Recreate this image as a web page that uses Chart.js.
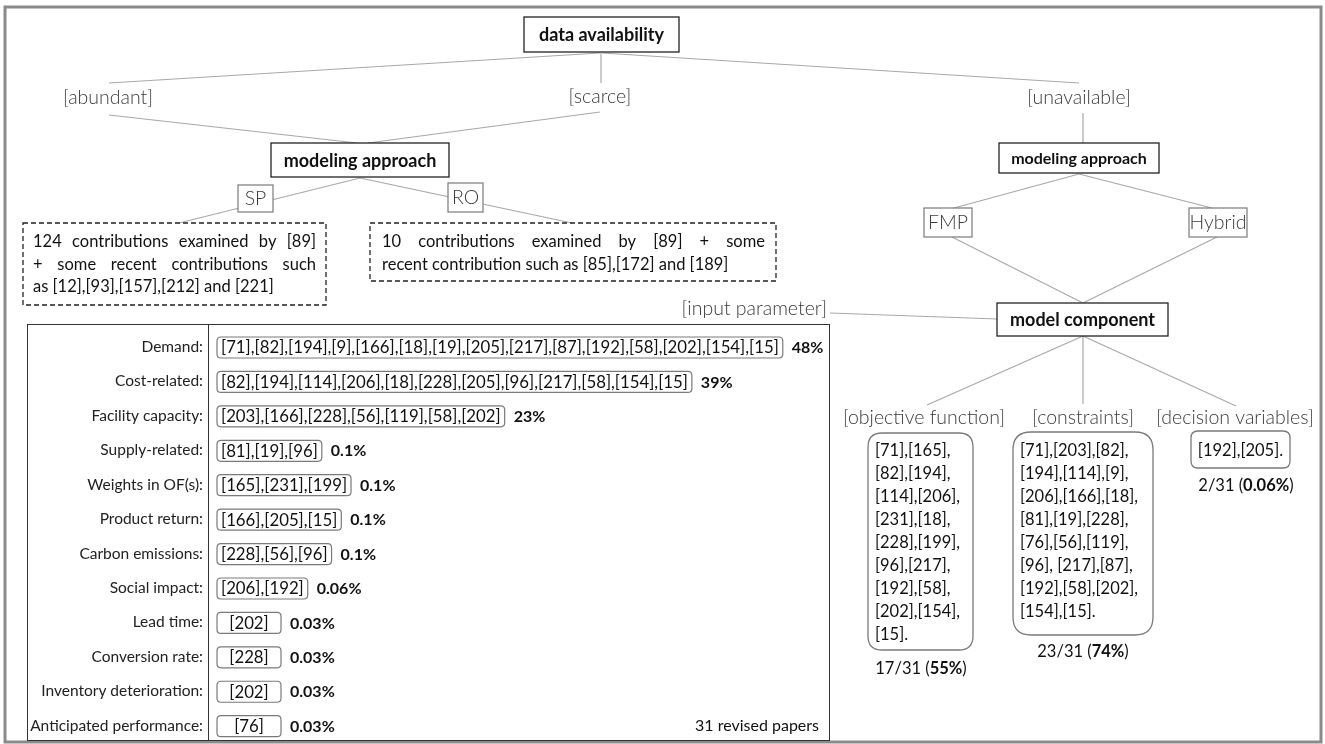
<!DOCTYPE html>
<html>
<head>
<meta charset="utf-8">
<title>data availability - modeling approach - model component</title>
<script src="https://cdn.jsdelivr.net/npm/chart.js@4.4.1/dist/chart.umd.min.js"></script>
<style>
  html, body { margin: 0; padding: 0; background: #fff; }
  #wrap { position: relative; width: 1325px; height: 744px; overflow: hidden; }
  #tree { position: absolute; left: 0; top: 0; }
  #tableBox { position: absolute; left: 27px; top: 324px; width: 801px; height: 415px;
              border: 1px solid #333; background: #fff; }
  #params { display: block; }
</style>
</head>
<body>
<div id="wrap">
  <canvas id="tree" width="1325" height="744"></canvas>
  <div id="tableBox"><canvas id="params" width="801" height="415"></canvas></div>
</div>
<script>
// ---- data ----
const rootLabel = "data availability";
const availability = ["[abundant]", "[scarce]", "[unavailable]"];
const approachLabel = "modeling approach";
const approachesWithData = ["SP", "RO"];
const approachesNoData = ["FMP", "Hybrid"];
const spLines = [
     "124 contributions examined by [89]",
     "+ some recent contributions such",
     "as [12],[93],[157],[212] and [221]"
];
const roLines = [
     "10 contributions examined by [89] + some",
     "recent contribution such as [85],[172] and [189]"
];
const componentLabel = "model component";
const inputParamLabel = "[input parameter]";
const componentTypes = ["[objective function]", "[constraints]", "[decision variables]"];
const objectiveRefs = ["[71],[165],", "[82],[194],", "[114],[206],", "[231],[18],", "[228],[199],",
     "[96],[217],", "[192],[58],", "[202],[154],", "[15]."];
const constraintRefs = ["[71],[203],[82],", "[194],[114],[9],", "[206],[166],[18],", "[81],[19],[228],",
     "[76],[56],[119],", "[96], [217],[87],", "[192],[58],[202],", "[154],[15]."];
const decisionRefs = ["[192],[205]."];
const componentCounts = [17, 23, 2];
const componentShares = ["55%", "74%", "0.06%"];
const totalPapers = 31;

const paramNames = ["Demand:", "Cost-related:", "Facility capacity:", "Supply-related:", "Weights in OF(s):",
     "Product return:", "Carbon emissions:", "Social impact:", "Lead time:", "Conversion rate:",
     "Inventory deterioration:", "Anticipated performance:"];
const paramRefs = [
     "[71],[82],[194],[9],[166],[18],[19],[205],[217],[87],[192],[58],[202],[154],[15]",
     "[82],[194],[114],[206],[18],[228],[205],[96],[217],[58],[154],[15]",
     "[203],[166],[228],[56],[119],[58],[202]",
     "[81],[19],[96]",
     "[165],[231],[199]",
     "[166],[205],[15]",
     "[228],[56],[96]",
     "[206],[192]",
     "[202]",
     "[228]",
     "[202]",
     "[76]"
];
const paramShares = [48, 39, 23, 0.1, 0.1, 0.1, 0.1, 0.06, 0.03, 0.03, 0.03, 0.03];

// ---- layout (diagram node positions, in page pixels) ----
const FONT = "Lato";
const HAND = "300 19.5px " + FONT;
const lineColor = "#a8a8a8";
const nodeBoxes = {
     root: [524, 17, 679, 52],
     approachL: [271, 143, 449, 177],
     approachR: [999, 143, 1159, 173],
     component: [997, 303, 1168, 336]
};
const smallBoxes = [[238, 185, 273, 212], [448, 183, 483, 212], [924, 208, 972, 237], [1189, 208, 1247, 237]];
const dashedBoxes = [[23, 223, 326, 305], [370, 223, 776, 281]];
const edges = [
     [600, 53, 109, 83], [601, 53, 601, 83], [602, 53, 1079, 83],
     [109, 115, 357, 143], [600, 112, 368, 143],
     [360, 178, 179, 223], [360, 178, 572, 223],
     [1083, 113, 1083, 143], [1079, 174, 954, 208], [1079, 174, 1212, 208],
     [952, 237, 1083, 303], [1217, 237, 1083, 303],
     [830, 313, 997, 319],
     [1083, 336, 927, 405], [1083, 336, 1083, 404], [1083, 336, 1236, 406]
];

function roundRect(ctx, x, y, w, h, r) {
     ctx.beginPath();
     ctx.moveTo(x + r, y);
     ctx.lineTo(x + w - r, y);
     ctx.quadraticCurveTo(x + w, y, x + w, y + r);
     ctx.lineTo(x + w, y + h - r);
     ctx.quadraticCurveTo(x + w, y + h, x + w - r, y + h);
     ctx.lineTo(x + r, y + h);
     ctx.quadraticCurveTo(x, y + h, x, y + h - r);
     ctx.lineTo(x, y + r);
     ctx.quadraticCurveTo(x, y, x + r, y);
     ctx.closePath();
}

function drawRuns(ctx, runs, cx, y) {
     let total = 0;
     runs.forEach(r => { ctx.font = r[1]; total += ctx.measureText(r[0]).width; });
     let x = cx - total / 2;
     ctx.textAlign = "left";
     runs.forEach(r => {
          ctx.font = r[1];
          ctx.fillText(r[0], x, y);
          x += ctx.measureText(r[0]).width;
     });
}

function justifyLine(ctx, line, x1, x2, y, last) {
     if (last) {
          ctx.textAlign = "left";
          ctx.fillText(line, x1, y);
          return;
     }
     const words = line.split(" ");
     let sum = 0;
     words.forEach(w => sum += ctx.measureText(w).width);
     const gap = (x2 - x1 - sum) / (words.length - 1);
     let x = x1;
     ctx.textAlign = "left";
     words.forEach(w => {
          ctx.fillText(w, x, y);
          x += ctx.measureText(w).width + gap;
     });
}

const treePlugin = {
     id: "tree",
     afterDraw(chart) {
          const ctx = chart.ctx;
          const X = v => chart.scales.x.getPixelForValue(v);
          const Y = v => chart.scales.y.getPixelForValue(v);
          const rect = b => [X(b[0]), Y(b[1]), X(b[2]) - X(b[0]), Y(b[3]) - Y(b[1])];
          ctx.save();
          ctx.textBaseline = "middle";

          // outer frame
          ctx.strokeStyle = "#8a8a8a";
          ctx.lineWidth = 3;
          ctx.strokeRect(X(5), Y(7), X(1321) - X(5), Y(742) - Y(7));

          // edges
          ctx.strokeStyle = lineColor;
          ctx.lineWidth = 1.2;
          edges.forEach(e => {
               ctx.beginPath();
               ctx.moveTo(X(e[0]), Y(e[1]));
               ctx.lineTo(X(e[2]), Y(e[3]));
               ctx.stroke();
          });

          // bold boxes
          const bold = [
               [nodeBoxes.root, rootLabel, "bold 18px "],
               [nodeBoxes.approachL, approachLabel, "bold 18px "],
               [nodeBoxes.approachR, approachLabel, "bold 16px "],
               [nodeBoxes.component, componentLabel, "bold 18px "]
          ];
          bold.forEach(b => {
               const r = rect(b[0]);
               ctx.fillStyle = "#fff";
               ctx.fillRect(r[0], r[1], r[2], r[3]);
               ctx.strokeStyle = "#222";
               ctx.lineWidth = 1.3;
               ctx.strokeRect(r[0], r[1], r[2], r[3]);
               ctx.fillStyle = "#111";
               ctx.font = b[2] + FONT;
               ctx.textAlign = "center";
               ctx.fillText(b[1], r[0] + r[2] / 2, r[1] + r[3] / 2 + 1);
          });

          // small approach boxes
          const approaches = approachesWithData.concat(approachesNoData);
          smallBoxes.forEach((b, i) => {
               const r = rect(b);
               ctx.fillStyle = "#fff";
               ctx.fillRect(r[0], r[1], r[2], r[3]);
               ctx.strokeStyle = "#7a7a7a";
               ctx.lineWidth = 1.2;
               ctx.strokeRect(r[0], r[1], r[2], r[3]);
               ctx.fillStyle = "#3a3a3a";
               ctx.font = HAND;
               ctx.textAlign = "center";
               ctx.fillText(approaches[i], r[0] + r[2] / 2, r[1] + r[3] / 2);
          });

          // handwritten branch labels
          ctx.fillStyle = "#3a3a3a";
          ctx.font = HAND;
          ctx.textAlign = "center";
          [[108, 98], [600, 97], [1079, 98]].forEach((p, i) => ctx.fillText(availability[i], X(p[0]), Y(p[1])));
          [[924, 418], [1083, 418], [1235, 418]].forEach((p, i) => ctx.fillText(componentTypes[i], X(p[0]), Y(p[1])));
          ctx.textAlign = "right";
          ctx.fillText(inputParamLabel, X(827), Y(309));

          // dashed paragraphs
          ctx.setLineDash([5, 3]);
          ctx.strokeStyle = "#222";
          ctx.lineWidth = 1.3;
          dashedBoxes.forEach(b => {
               const r = rect(b);
               ctx.strokeRect(r[0], r[1], r[2], r[3]);
          });
          ctx.setLineDash([]);
          ctx.fillStyle = "#111";
          ctx.font = "16.5px " + FONT;
          spLines.forEach((l, i) => justifyLine(ctx, l, X(33), X(316), Y(242 + i * 22.5), i === spLines.length - 1));
          roLines.forEach((l, i) => justifyLine(ctx, l, X(382), X(765), Y(242 + i * 22.5), i === roLines.length - 1));

          // component reference boxes
          const compBoxes = [[868, 433, 973, 650, 14], [1013, 432, 1153, 635, 18], [1191, 431, 1290, 468, 7]];
          const compRefs = [objectiveRefs, constraintRefs, decisionRefs];
          compBoxes.forEach((b, i) => {
               const r = rect(b);
               ctx.strokeStyle = "#7a7a7a";
               ctx.lineWidth = 1.3;
               roundRect(ctx, r[0], r[1], r[2], r[3], b[4]);
               ctx.stroke();
               ctx.fillStyle = "#111";
               ctx.font = "16.5px " + FONT;
               compRefs[i].forEach((t, j) => {
                    if (compRefs[i].length === 1) {
                         ctx.textAlign = "center";
                         ctx.fillText(t, r[0] + r[2] / 2, Y(451));
                    } else {
                         ctx.textAlign = "left";
                         ctx.fillText(t, r[0] + 7, Y(451 + j * 23));
                    }
               });
          });
          // counts under the boxes
          const countPos = [[921, 669], [1083, 652], [1246, 486]];
          countPos.forEach((p, i) => {
               drawRuns(ctx, [
                    [componentCounts[i] + "/" + totalPapers + " (", "16.5px " + FONT],
                    [componentShares[i], "bold 16.5px " + FONT],
                    [")", "16.5px " + FONT]
               ], X(p[0]), Y(p[1]));
          });
          ctx.restore();
     }
};

new Chart(document.getElementById("tree"), {
     type: "scatter",
     data: { datasets: [] },
     options: {
          responsive: false,
          animation: false,
          layout: { padding: 0 },
          plugins: { legend: { display: false }, tooltip: { enabled: false } },
          scales: {
               x: { type: "linear", display: false, min: 0, max: 1325 },
               y: { type: "linear", display: false, min: 0, max: 744, reverse: true }
          }
     },
     plugins: [treePlugin]
});

// ---- input parameter table ----
const paramPlugin = {
     id: "paramBoxes",
     afterDraw(chart) {
          const ctx = chart.ctx;
          const ys = chart.scales.y;
          const divX = ys.right;
          ctx.save();
          ctx.strokeStyle = "#333";
          ctx.lineWidth = 1;
          ctx.beginPath();
          ctx.moveTo(divX + 0.5, 0);
          ctx.lineTo(divX + 0.5, chart.height);
          ctx.stroke();
          ctx.textBaseline = "middle";
          paramRefs.forEach((refs, i) => {
               const y = ys.getPixelForValue(i);
               ctx.font = "16.8px " + FONT;
               const w = Math.max(ctx.measureText(refs).width + 8, 64);
               const x0 = divX + 9;
               ctx.strokeStyle = "#7a7a7a";
               ctx.lineWidth = 1.2;
               roundRect(ctx, x0, y - 10, w, 21, 4);
               ctx.stroke();
               ctx.fillStyle = "#111";
               ctx.textAlign = "center";
               ctx.fillText(refs, x0 + w / 2, y + 1);
               ctx.font = "bold 16px " + FONT;
               ctx.textAlign = "left";
               ctx.fillText(paramShares[i] + "%", x0 + w + 9, y + 1);
          });
          ctx.font = "16px " + FONT;
          ctx.textAlign = "right";
          ctx.fillText(totalPapers + " revised papers", chart.width - 10, ys.getPixelForValue(paramNames.length - 1));
          ctx.restore();
     }
};

new Chart(document.getElementById("params"), {
     type: "bar",
     data: {
          labels: paramNames,
          datasets: [{ data: paramShares, backgroundColor: "rgba(0,0,0,0)", borderWidth: 0 }]
     },
     options: {
          indexAxis: "y",
          responsive: false,
          animation: false,
          layout: { padding: { top: 22, bottom: 12, left: 0, right: 0 } },
          plugins: { legend: { display: false }, tooltip: { enabled: false } },
          scales: {
               x: { display: false, min: 0, max: 100 },
               y: {
                    offset: false,
                    grid: { display: false, drawTicks: false },
                    border: { display: false },
                    ticks: { color: "#222", font: { family: FONT, size: 15.5 }, padding: 5, autoSkip: false },
                    afterFit(scale) { scale.width = 180; }
               }
          }
     },
     plugins: [paramPlugin]
});
</script>
</body>
</html>
